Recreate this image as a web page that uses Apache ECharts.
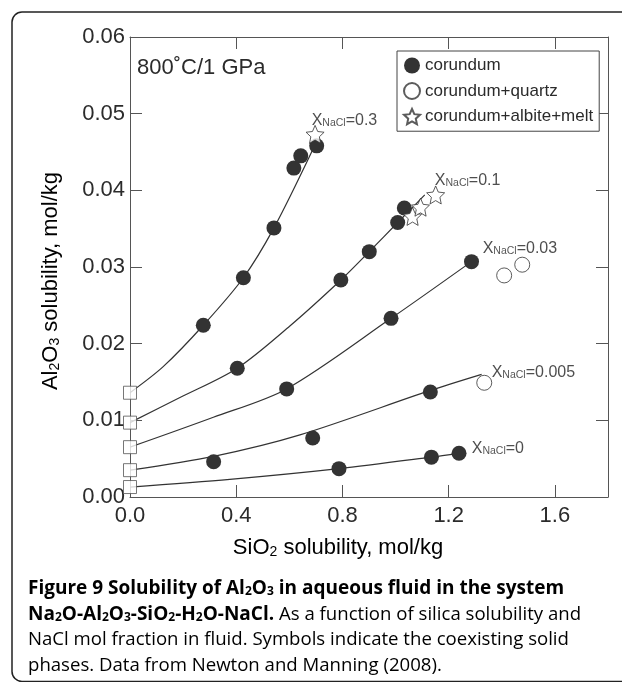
<!DOCTYPE html>
<html>
<head>
<meta charset="utf-8">
<script src="https://cdn.jsdelivr.net/npm/echarts@6/dist/echarts.min.js"></script>
<style>
  html, body { margin: 0; padding: 0; background: #fff; }
  #chart { width: 622px; height: 682px; }
</style>
</head>
<body>
<div id="chart"></div>
<script>
// NaCl mole fractions of the five fluid series (top to bottom)
const naclFractions = ['0.3', '0.1', '0.03', '0.005', '0'];

// Extrapolated Al2O3 at zero silica (open squares), one per series
const zeroSilicaAl = [0.0136, 0.0097, 0.0065, 0.0035, 0.0013];

// Corundum-saturated measurements [SiO2, Al2O3] in mol/kg
const corundum030 = [[0.276, 0.0224], [0.427, 0.0286], [0.542, 0.0351], [0.617, 0.0429], [0.643, 0.0445], [0.703, 0.0458]];
const corundum010 = [[0.404, 0.0168], [0.794, 0.0283], [0.901, 0.0320], [1.008, 0.0358], [1.033, 0.0377]];
const corundum003 = [[0.590, 0.0141], [0.983, 0.0233], [1.286, 0.0307]];
const corundum0005 = [[0.315, 0.0046], [0.688, 0.0077], [1.131, 0.0137]];
const corundum000 = [[0.787, 0.0037], [1.135, 0.0052], [1.239, 0.0057]];

// Corundum + quartz
const corundumQuartz = [[1.409, 0.0289], [1.477, 0.0303], [1.334, 0.0149]];

// Corundum + albite + melt
const corundumAlbiteMelt = [[0.697, 0.0473], [1.064, 0.0366], [1.094, 0.0378], [1.151, 0.0394]];

// Fitted solubility curves
const fit030 = [[0, 0.0136], [0.125, 0.0170], [0.276, 0.0224], [0.427, 0.0286], [0.542, 0.0351], [0.688, 0.0453]];
const fit010 = [[0, 0.0097], [0.19, 0.0130], [0.404, 0.0168], [0.602, 0.0223], [0.794, 0.0283], [0.901, 0.0320], [1.008, 0.0358], [1.11, 0.0394]];
const fit003 = [[0, 0.0065], [0.314, 0.0104], [0.590, 0.0141], [0.983, 0.0233], [1.286, 0.0307]];
const fit0005 = [[0, 0.0035], [0.315, 0.0053], [0.64, 0.0081], [1.131, 0.0139], [1.324, 0.0160]];
const fit000 = [[0, 0.0013], [0.376, 0.0023], [0.787, 0.0037], [1.135, 0.0052], [1.239, 0.0057]];

// Where each X_NaCl label begins, in data units
const labelAnchors = [[0.684, 0.0492], [1.148, 0.0414], [1.328, 0.0325], [1.362, 0.0163], [1.287, 0.0064]];

// Axis tick settings
const xTicks = { min: 0, max: 1.8, step: 0.4 };
const yTicks = { min: 0, max: 0.06, step: 0.01 };

const INK = '#2b2b2b';
const LINE = '#333';
const FONT = '"Liberation Sans", Arial, Helvetica, sans-serif';
const CAPTION_FONT = '"Open Sans", "Noto Sans", sans-serif';
const STAR = 'path://M12,1 L15.06,7.79 L22.46,8.6 L16.95,13.61 L18.47,20.9 L12,17.2 L5.53,20.9 L7.05,13.61 L1.54,8.6 L8.94,7.79 Z';

const chart = echarts.init(document.getElementById('chart'), null, { renderer: 'canvas' });

const fits = [fit030, fit010, fit003, fit0005, fit000];
const lineSeries = fits.map(function (pts, i) {
  return {
    name: 'fit ' + naclFractions[i],
    type: 'line',
    data: pts,
    smooth: 0.3,
    symbol: 'none',
    silent: true,
    clip: false,
    lineStyle: { color: LINE, width: 1.2 },
    z: 2
  };
});

const tickLine = { show: true, inside: true, length: 12, lineStyle: { color: '#555', width: 1 } };
const frameLine = { show: true, onZero: false, lineStyle: { color: '#555', width: 1 } };

const sub = function (size, lh) {
  return { fontSize: size, fontFamily: FONT, color: INK, lineHeight: lh, verticalAlign: 'bottom' };
};

function captionRich() {
  return {
    b: { fontSize: 19, fontWeight: 'bold', fontFamily: CAPTION_FONT, color: '#1f1f1f', lineHeight: 26, verticalAlign: 'bottom' },
    bs: { fontSize: 12, fontWeight: 'bold', fontFamily: CAPTION_FONT, color: '#1f1f1f', lineHeight: 17, verticalAlign: 'bottom' },
    r: { fontSize: 18.6, fontFamily: CAPTION_FONT, color: '#4a4a4a', lineHeight: 26, verticalAlign: 'bottom' }
  };
}

const option = {
  animation: false,
  backgroundColor: '#fff',
  grid: { left: 130, top: 37, right: 14, bottom: 185 },
  xAxis: [
    {
      type: 'value', position: 'bottom', min: xTicks.min, max: xTicks.max, interval: xTicks.step,
      axisLine: frameLine, axisTick: tickLine, splitLine: { show: false },
      axisLabel: {
        fontSize: 22, fontFamily: FONT, color: INK, margin: 8, showMaxLabel: false,
        formatter: function (v) { return v.toFixed(1); }
      }
    },
    {
      type: 'value', position: 'top', min: xTicks.min, max: xTicks.max, interval: xTicks.step,
      axisLine: frameLine, axisTick: tickLine, splitLine: { show: false }, axisLabel: { show: false }
    }
  ],
  yAxis: [
    {
      type: 'value', position: 'left', min: yTicks.min, max: yTicks.max, interval: yTicks.step,
      axisLine: frameLine, axisTick: tickLine, splitLine: { show: false },
      axisLabel: {
        fontSize: 22, fontFamily: FONT, color: INK, margin: 5,
        formatter: function (v) { return v.toFixed(2); }
      }
    },
    {
      type: 'value', position: 'right', min: yTicks.min, max: yTicks.max, interval: yTicks.step,
      axisLine: frameLine, axisTick: tickLine, splitLine: { show: false }, axisLabel: { show: false }
    }
  ],
  legend: {
    orient: 'vertical',
    left: 397, top: 51,
    padding: [6, 6, 6, 6],
    itemGap: 8,
    itemWidth: 16, itemHeight: 16,
    borderColor: '#444', borderWidth: 1,
    backgroundColor: '#fff',
    textStyle: { fontSize: 17, fontFamily: FONT, color: INK },
    data: [
      { name: 'corundum', icon: 'circle', itemStyle: { color: '#333' } },
      { name: 'corundum+quartz', icon: 'circle' },
      { name: 'corundum+albite+melt', icon: STAR }
    ]
  },
  series: lineSeries.concat([
    {
      name: 'zero silica',
      type: 'scatter',
      data: zeroSilicaAl.map(function (y) { return [0, y]; }),
      symbol: 'rect', symbolSize: 13, clip: false, silent: true,
      itemStyle: { color: '#fff', borderColor: '#555', borderWidth: 1 },
      z: 3
    },
    {
      name: 'corundum',
      type: 'scatter',
      data: [].concat(corundum030, corundum010, corundum003, corundum0005, corundum000),
      symbol: 'circle', symbolSize: 15, silent: true,
      itemStyle: { color: '#333', opacity: 1 },
      z: 4
    },
    {
      name: 'corundum+quartz',
      type: 'scatter',
      data: corundumQuartz,
      symbol: 'circle', symbolSize: 15, silent: true,
      itemStyle: { color: '#fff', borderColor: '#333', borderWidth: 1 },
      z: 4
    },
    {
      name: 'corundum+albite+melt',
      type: 'scatter',
      data: corundumAlbiteMelt,
      symbol: STAR, symbolSize: 18, silent: true,
      itemStyle: { color: '#fff', borderColor: '#333', borderWidth: 1 },
      z: 5
    },
    {
      name: 'fraction labels',
      type: 'scatter',
      data: labelAnchors,
      symbolSize: 0, silent: true, clip: false,
      label: {
        show: true, position: 'right', distance: 0,
        formatter: function (p) { return '{m|X}{s|NaCl}{m|=' + naclFractions[p.dataIndex] + '}'; },
        rich: {
          m: { fontSize: 16, fontFamily: FONT, color: '#222', lineHeight: 18, verticalAlign: 'bottom' },
          s: sub(10.5, 12)
        }
      },
      z: 6
    }
  ]),
  graphic: [
    {
      type: 'rect', silent: true, z: -1,
      shape: { x: 12, y: 12, width: 640, height: 669.5, r: 10 },
      style: { fill: 'none', stroke: '#222', lineWidth: 1.5 }
    },
    {
      type: 'text', silent: true,
      style: {
        x: 137, y: 68, text: '800˚C/1 GPa', fontSize: 22, fontFamily: FONT, fill: INK,
        align: 'left', verticalAlign: 'middle'
      }
    },
    {
      type: 'text', silent: true,
      style: {
        x: 338, y: 547, align: 'center', verticalAlign: 'middle',
        text: '{t|SiO}{s|2}{t| solubility, mol/kg}',
        rich: {
          t: { fontSize: 22, fontFamily: FONT, color: INK, lineHeight: 24, verticalAlign: 'bottom' },
          s: sub(14, 14)
        }
      }
    },
    {
      type: 'text', silent: true, x: 50, y: 281, rotation: Math.PI / 2,
      style: {
        x: 0, y: 0, align: 'center', verticalAlign: 'middle',
        text: '{t|Al}{s|2}{t|O}{s|3}{t| solubility, mol/kg}',
        rich: {
          t: { fontSize: 22, fontFamily: FONT, color: INK, lineHeight: 24, verticalAlign: 'bottom' },
          s: sub(14, 14)
        }
      }
    },
    {
      type: 'group', silent: true, left: 28, top: 579,
      children: [
        {
          type: 'text', y: 0,
          style: {
            text: '{b|Figure 9 Solubility of Al}{bs|2}{b|O}{bs|3}{b| in aqueous fluid in the system}',
            rich: captionRich()
          }
        },
        {
          type: 'text', y: 25.8,
          style: {
            text: '{b|Na}{bs|2}{b|O-Al}{bs|2}{b|O}{bs|3}{b|-SiO}{bs|2}{b|-H}{bs|2}{b|O-NaCl.}{r| As a function of silica solubility and}',
            rich: captionRich()
          }
        },
        {
          type: 'text', y: 51.6,
          style: { text: '{r|NaCl mol fraction in fluid. Symbols indicate the coexisting solid}', rich: captionRich() }
        },
        {
          type: 'text', y: 77.4,
          style: { text: '{r|phases. Data from Newton and Manning (2008).}', rich: captionRich() }
        }
      ]
    }
  ]
};

chart.setOption(option);
</script>
</body>
</html>
